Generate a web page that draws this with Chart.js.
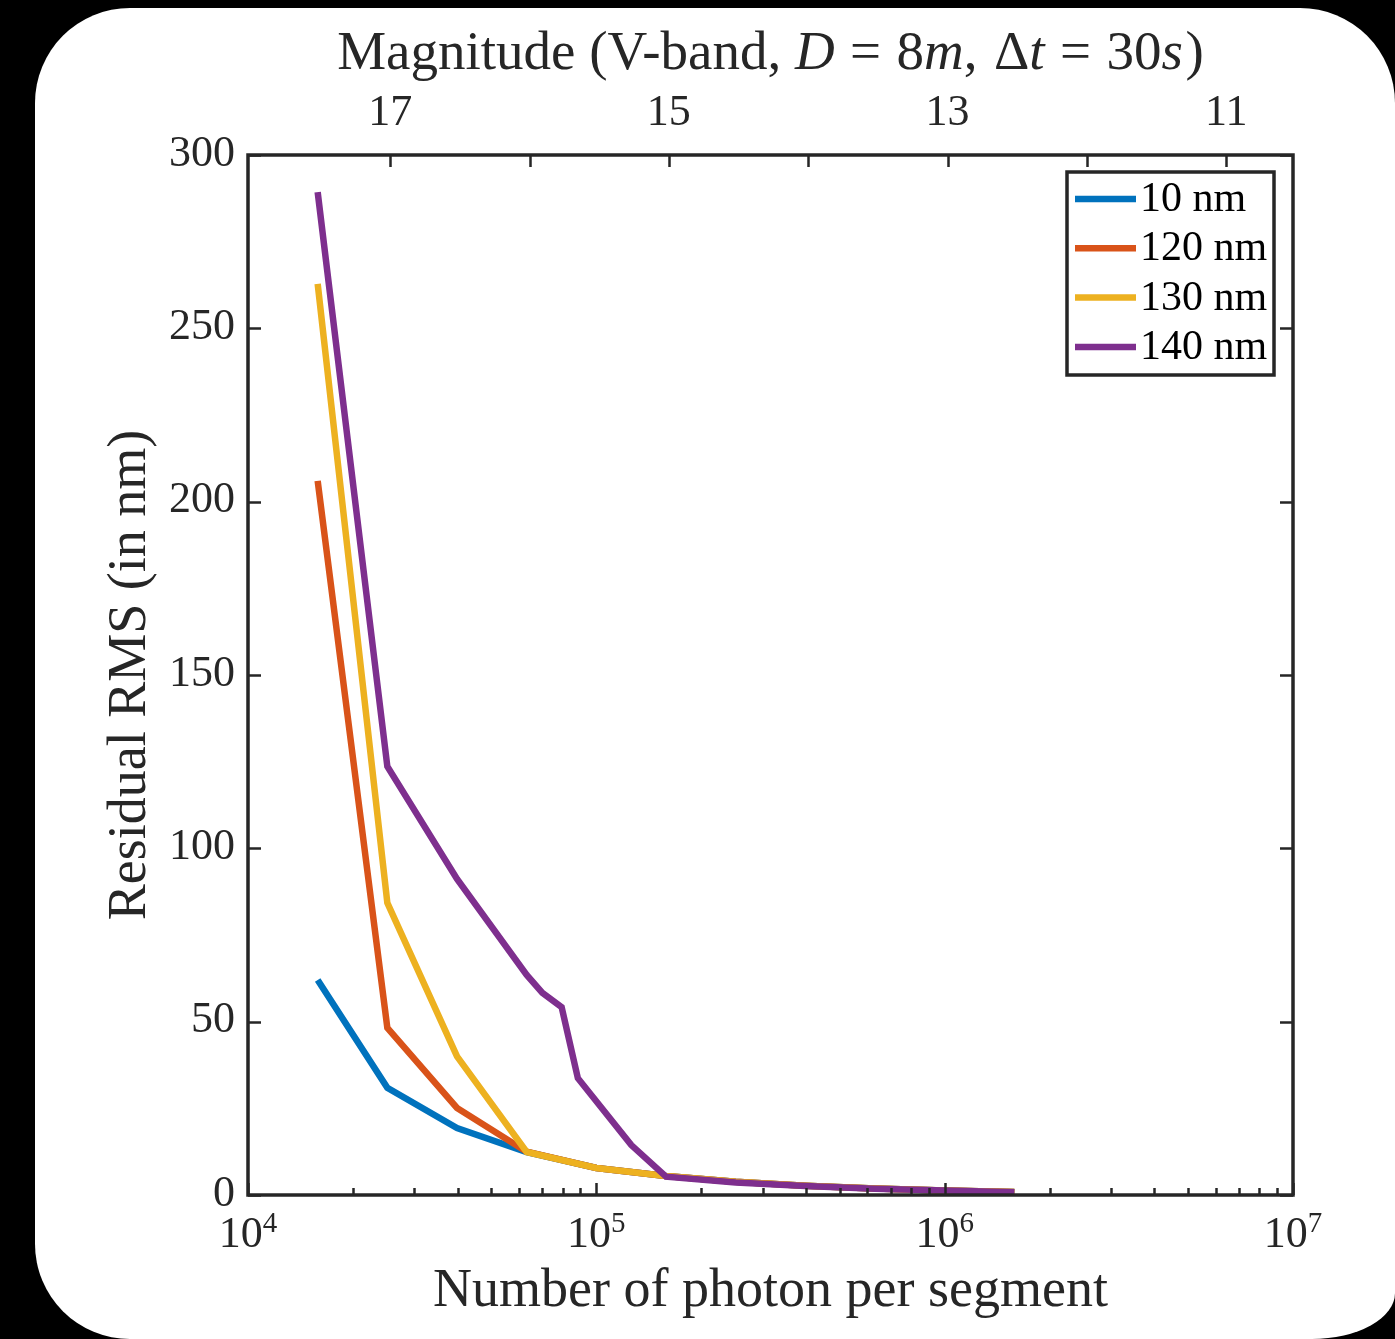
<!DOCTYPE html>
<html>
<head>
<meta charset="utf-8">
<title>Residual RMS vs photon count</title>
<script src="https://cdn.jsdelivr.net/npm/chart.js@4/dist/chart.umd.min.js"></script>
<style>
  html, body { margin: 0; padding: 0; background: #000; width: 1395px; height: 1339px; overflow: hidden; }
  #card {
    position: absolute; left: 35px; top: 8px; width: 1360px; height: 1331px;
    background: #fff;
    border-radius: 95px 95px 83px 95px / 95px 95px 46px 95px;
  }
  #chart { position: absolute; left: 0; top: 0; }
</style>
</head>
<body>
<div id="card"></div>
<canvas id="chart" width="1395" height="1339"></canvas>
<script>
// Photon counts per segment (x) and residual RMS in nm (y) for each aberration level
const photonCounts = [1.585e4, 2.512e4, 3.981e4, 6.310e4, 1.000e5, 1.585e5, 2.512e5, 3.981e5, 6.310e5, 1.000e6, 1.585e6];
const rms10nm  = [62.0, 30.9, 19.3, 12.4, 7.8, 5.5, 3.8, 2.7, 1.9, 1.3, 0.9];
const rms120nm = [206.0, 48.2, 25.1, 12.5, 7.8, 5.5, 3.8, 2.7, 1.9, 1.3, 0.9];
const rms130nm = [262.8, 84.3, 40.0, 12.4, 7.8, 5.5, 3.8, 2.7, 1.9, 1.3, 0.9];
const photonCounts140 = [1.585e4, 2.512e4, 3.981e4, 6.310e4, 7.00e4, 7.95e4, 8.85e4, 1.26e5, 1.585e5, 2.512e5, 3.981e5, 6.310e5, 1.000e6, 1.585e6];
const rms140nm = [289.3, 123.6, 91.2, 63.5, 58.3, 54.2, 33.7, 14.4, 5.3, 3.6, 2.6, 1.8, 1.3, 0.8];

const seriesLabels = ['10 nm', '120 nm', '130 nm', '140 nm'];
const seriesColors = ['#0072BD', '#D95319', '#EDB120', '#7E2F8E'];

// Axis ticks
const yTicks = [0, 50, 100, 150, 200, 250, 300];
const decadeExponents = [4, 5, 6, 7];
const minorMultipliers = [2, 3, 4, 5, 6, 7, 8, 9];
const magnitudeTicks = [17, 16, 15, 14, 13, 12, 11];
const magnitudeLabels = ['17', '', '15', '', '13', '', '11'];
const photonsAtMag17 = 2.56e4; // photometric zero point of the top axis

const FONT = '"Liberation Serif", "Times New Roman", serif';
const INK = '#262626';
const PLOT = { left: 248, top: 155, right: 1293, bottom: 1195 };
const W = 1395, H = 1339;

function pts(xs, ys) { return xs.map((x, i) => ({ x: x, y: ys[i] })); }

const dataSeries = [pts(photonCounts, rms10nm), pts(photonCounts, rms120nm), pts(photonCounts, rms130nm), pts(photonCounts140, rms140nm)];

const datasets = dataSeries.map((d, i) => ({
  label: seriesLabels[i],
  data: d,
  borderColor: seriesColors[i],
  backgroundColor: seriesColors[i],
  borderWidth: 6.5,
  pointRadius: 0,
  tension: 0,
  fill: false,
  borderCapStyle: 'butt',
  borderJoinStyle: 'miter',
  order: seriesLabels.length - 1 - i   // later series painted over earlier ones
}));

// Top title: text runs, italic flag, and extra gap (em) after the run
const titleRuns = [
  ['Magnitude (V-band, ', false, 0], ['D', true, 0.28], ['=', false, 0.28], ['8', false, 0],
  ['m', true, 0], [',', false, 0.3], ['\u0394', false, 0], ['t', true, 0.28], ['=', false, 0.28],
  ['30', false, 0], ['s', true, 0.05], [')', false, 0]
];
const TITLE_SIZE = 55;

// Frame, inward tick marks, power-of-ten labels, top title and legend
const decorations = {
  id: 'decorations',
  afterDraw(chart) {
    const c = chart.ctx;
    const xs = chart.scales.x, xt = chart.scales.xTop, ys = chart.scales.y;
    const a = chart.chartArea;
    c.save();

    // tick marks pointing into the plot
    c.strokeStyle = INK;
    c.lineWidth = 2.5;
    c.beginPath();
    yTicks.forEach(v => {
      const py = Math.round(ys.getPixelForValue(v)) + 0.5;
      c.moveTo(a.left, py); c.lineTo(a.left + 13, py);
      c.moveTo(a.right, py); c.lineTo(a.right - 13, py);
    });
    xs.ticks.forEach(t => {
      const px = Math.round(xs.getPixelForValue(t.value)) + 0.5;
      const major = Math.abs(Math.log10(t.value) - Math.round(Math.log10(t.value))) < 1e-9;
      c.moveTo(px, a.bottom); c.lineTo(px, a.bottom - (major ? 12 : 7));
    });
    xt.ticks.forEach(t => {
      const px = Math.round(xt.getPixelForValue(t.value)) + 0.5;
      c.moveTo(px, a.top); c.lineTo(px, a.top + 12);
    });
    c.stroke();

    // axes box
    c.lineWidth = 3.5;
    c.strokeRect(a.left, a.top, a.right - a.left, a.bottom - a.top);

    // 10^k labels under the bottom axis
    c.fillStyle = INK;
    c.textBaseline = 'alphabetic';
    c.textAlign = 'left';
    decadeExponents.forEach(k => {
      const px = xs.getPixelForValue(Math.pow(10, k));
      c.font = '44px ' + FONT;
      const wb = c.measureText('10').width;
      c.font = '29px ' + FONT;
      const we = c.measureText(String(k)).width;
      const x0 = px - (wb + we) / 2;
      c.font = '44px ' + FONT;
      c.fillText('10', x0, 1247);
      c.font = '29px ' + FONT;
      c.fillText(String(k), x0 + wb, 1232);
    });

    // top title with italic math symbols
    const fontFor = it => (it ? 'italic ' : '') + TITLE_SIZE + 'px ' + FONT;
    let total = 0;
    titleRuns.forEach(r => { c.font = fontFor(r[1]); total += c.measureText(r[0]).width + r[2] * TITLE_SIZE; });
    let tx = (a.left + a.right) / 2 - total / 2;
    titleRuns.forEach(r => {
      c.font = fontFor(r[1]);
      c.fillText(r[0], tx, 69);
      tx += c.measureText(r[0]).width + r[2] * TITLE_SIZE;
    });

    // legend
    const lg = { x: 1067, y: 172, w: 207, h: 203 };
    c.fillStyle = '#fff';
    c.fillRect(lg.x, lg.y, lg.w, lg.h);
    c.lineWidth = 3.5;
    c.strokeStyle = INK;
    c.strokeRect(lg.x, lg.y, lg.w, lg.h);
    c.font = '42px ' + FONT;
    c.textBaseline = 'middle';
    chart.data.datasets.forEach((ds, i) => {
      const ry = 199 + i * 49.3;
      c.strokeStyle = ds.borderColor;
      c.lineWidth = 6.5;
      c.lineCap = 'butt';
      c.beginPath(); c.moveTo(1075, ry); c.lineTo(1136, ry); c.stroke();
      c.fillStyle = '#000';
      c.fillText(ds.label, 1140, ry + 1);
    });
    c.restore();
  }
};

new Chart(document.getElementById('chart').getContext('2d'), {
  type: 'line',
  data: { datasets: datasets },
  options: {
    responsive: false,
    animation: false,
    devicePixelRatio: 1,
    layout: { padding: { left: 0, top: 0, right: W - PLOT.right, bottom: 0 } },
    plugins: { legend: { display: false }, tooltip: { enabled: false } },
    scales: {
      x: {
        type: 'logarithmic', position: 'bottom', min: 1e4, max: 1e7,
        afterBuildTicks: s => {
          const t = [];
          decadeExponents.forEach(k => {
            t.push({ value: Math.pow(10, k) });
            if (k < decadeExponents[decadeExponents.length - 1]) {
              minorMultipliers.forEach(m => t.push({ value: m * Math.pow(10, k) }));
            }
          });
          s.ticks = t;
        },
        ticks: { display: false },
        grid: { display: false, drawTicks: false },
        border: { display: false },
        afterFit: s => { s.height = H - PLOT.bottom; },
        title: {
          display: true, text: 'Number of photon per segment',
          font: { family: FONT, size: 54 }, color: INK,
          padding: { top: 0, bottom: 15 }
        }
      },
      xTop: {
        type: 'logarithmic', position: 'top', min: 1e4, max: 1e7,
        afterBuildTicks: s => {
          s.ticks = magnitudeTicks.map(m => ({ value: photonsAtMag17 * Math.pow(10, 0.4 * (17 - m)) }));
        },
        ticks: {
          autoSkip: false, maxRotation: 0, minRotation: 0,
          font: { family: FONT, size: 44 }, color: INK, padding: 15,
          callback: (v, i) => magnitudeLabels[i]
        },
        grid: { display: false, drawTicks: false },
        border: { display: false },
        afterFit: s => { s.height = PLOT.top; }
      },
      y: {
        type: 'linear', position: 'left', min: 0, max: 300,
        afterBuildTicks: s => { s.ticks = yTicks.map(v => ({ value: v })); },
        ticks: { font: { family: FONT, size: 44 }, color: INK, padding: 13, labelOffset: -1 },
        grid: { display: false, drawTicks: false },
        border: { display: false },
        afterFit: s => { s.width = PLOT.left; },
        title: {
          display: true, text: 'Residual RMS (in nm)',
          font: { family: FONT, size: 54 }, color: INK,
          padding: { top: 98, bottom: 0 }
        }
      }
    }
  },
  plugins: [decorations]
});
</script>
</body>
</html>
